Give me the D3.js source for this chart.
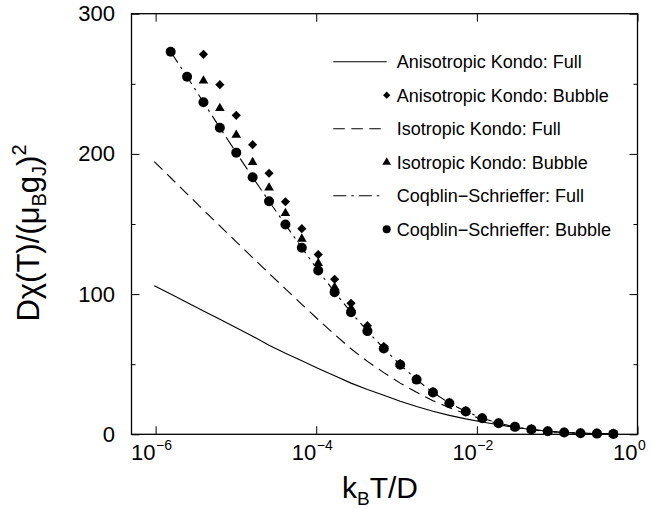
<!DOCTYPE html>
<html>
<head>
<meta charset="utf-8">
<script src="https://cdn.jsdelivr.net/npm/d3@7"></script>
<style>
  html, body { margin: 0; padding: 0; background: #fff; }
  svg { display: block; font-family: "Liberation Sans", Arial, Helvetica, sans-serif; }
</style>
</head>
<body>
<svg id="chart" width="652" height="508"></svg>
<script>
// Temperatures k_B T / D (logarithmic grid, lowest first)
const temps = [9.63e-7, 1.541e-6, 2.465e-6, 3.944e-6, 6.311e-6, 1.010e-5, 1.615e-5,
  2.585e-5, 4.136e-5, 6.617e-5, 1.059e-4, 1.694e-4, 2.711e-4, 4.337e-4, 6.939e-4,
  1.1102e-3, 1.7764e-3, 2.8422e-3, 4.5475e-3, 7.276e-3, 1.1642e-2, 1.8626e-2,
  2.9802e-2, 4.7684e-2, 7.6294e-2, 0.12207, 0.19531, 0.3125, 0.5];

// Full solutions (curves), one value per temperature above
const anisoFull = [106.0, 100.0, 94.0, 88.0, 82.0, 76.0, 70.0, 63.5, 57.8, 52.5, 47.0,
  41.7, 36.5, 32.0, 27.8, 23.5, 19.8, 16.5, 13.5, 11.0, 8.8, 6.8, 4.9, 3.4, 2.2, 1.3,
  0.8, 0.5, 0.3];
const isoFull = [194.5, 183.0, 171.5, 160.0, 148.6, 137.3, 126.0, 114.8, 103.7, 92.7,
  81.8, 71.2, 61.0, 52.0, 44.0, 36.5, 30.0, 24.0, 19.0, 14.6, 10.8, 7.5, 4.8, 3.2, 2.0,
  1.2, 0.8, 0.5, 0.3];
// starts at the second temperature
const csFull = [272.9, 255.0, 236.8, 218.7, 200.9, 183.3, 166.2, 149.6, 133.0, 116.8,
  101.4, 87.0, 73.6, 61.2, 49.6, 39.0, 29.8, 22.2, 16.3, 11.5, 7.9, 5.3, 3.5, 2.2, 1.3,
  0.8, 0.5, 0.3];

// Bubble approximations (symbols)
const csBubble = [272.9, 255.0, 236.8, 218.7, 200.9, 183.3, 166.2, 149.6, 133.0, 116.8,
  101.4, 87.0, 73.6, 61.2, 49.6, 39.0, 29.8, 22.2, 16.3, 11.5, 7.9, 5.3, 3.5, 2.2, 1.3,
  0.8, 0.5, 0.3];
// these two start at the fourth temperature
const anisoBubble = [271.0, 249.4, 227.5, 206.6, 186.2, 165.9, 146.7, 128.2, 110.6, 93.4,
  77.5, 62.5, 50.3, 39.4, 30.2, 22.5, 16.5, 11.6, 7.9, 5.3, 3.6, 2.2, 1.3, 0.8, 0.5, 0.3];
const isoBubble = [252.2, 232.5, 213.5, 194.0, 175.9, 157.6, 139.4, 122.0, 104.9, 89.9,
  75.6, 62.0, 49.9, 39.0, 30.0, 22.3, 16.4, 11.4, 7.8, 5.2, 3.5, 2.2, 1.3, 0.8, 0.5, 0.3];

const xTicks = [1e-6, 1e-4, 1e-2, 1];
const xTickExps = ["\u22126", "\u22124", "\u22122", "0"];
const yMajor = [0, 100, 200, 300];
const yMinor = [50, 150, 250];

const legendLabels = ["Anisotropic Kondo: Full", "Anisotropic Kondo: Bubble",
  "Isotropic Kondo: Full", "Isotropic Kondo: Bubble",
  "Coqblin\u2212Schrieffer: Full", "Coqblin\u2212Schrieffer: Bubble"];

const svg = d3.select("#chart");
const L = 131.5, R = 637.5, T = 13.7, B = 434.3;

const x = d3.scaleLog().domain([Math.pow(10, -6.3), 1]).range([L, R]);
const y = d3.scaleLinear().domain([0, 300]).range([B, T]);

// pair helper: align a value list to the tail end of the temperature grid
const pairs = vals => vals.map((v, i) => ({ t: temps[temps.length - vals.length + i], v }));

const line = d3.line().x(d => x(d.t)).y(d => y(d.v));

// curves
const curves = [
  { data: pairs(anisoFull), dash: null },
  { data: pairs(isoFull), dash: "11.5,6.5" },
  { data: pairs(csFull), dash: "13,5,2.5,5" }
];
svg.append("g").selectAll("path").data(curves).join("path")
  .attr("d", d => line(d.data))
  .attr("fill", "none").attr("stroke", "#000").attr("stroke-width", 1.1)
  .attr("stroke-dasharray", d => d.dash);

// symbols
const diamond = d3.symbol().type(d3.symbolSquare).size(42);
const triangle = d3.symbol().type(d3.symbolTriangle).size(40);

const gs = svg.append("g");
gs.selectAll(".dia").data(pairs(anisoBubble)).join("path")
  .attr("d", diamond())
  .attr("transform", d => `translate(${x(d.t)},${y(d.v)}) rotate(45)`);
gs.selectAll(".tri").data(pairs(isoBubble)).join("path")
  .attr("d", triangle())
  .attr("transform", d => `translate(${x(d.t)},${y(d.v)})`);
gs.selectAll("circle").data(pairs(csBubble)).join("circle")
  .attr("cx", d => x(d.t)).attr("cy", d => y(d.v)).attr("r", 5);

// axes with inward ticks on all four sides
const axisStyle = g => {
  g.select(".domain").remove();
  g.selectAll("line").attr("stroke", "#000").attr("stroke-width", 1);
};
svg.append("g").attr("transform", `translate(0,${B})`)
  .call(d3.axisBottom(x).tickValues(xTicks).tickSize(-8).tickFormat(""))
  .call(axisStyle);
svg.append("g").attr("transform", `translate(0,${T})`)
  .call(d3.axisTop(x).tickValues(xTicks).tickSize(-8).tickFormat(""))
  .call(axisStyle);
svg.append("g").attr("transform", `translate(${L},0)`)
  .call(d3.axisLeft(y).tickValues(yMajor).tickSize(-8).tickPadding(16.5))
  .call(axisStyle)
  .call(g => g.selectAll("text").attr("font-size", 22).attr("fill", "#000")
    .attr("font-family", null));
svg.append("g").attr("transform", `translate(${L},0)`)
  .call(d3.axisLeft(y).tickValues(yMinor).tickSize(-4).tickFormat(""))
  .call(axisStyle);
svg.append("g").attr("transform", `translate(${R},0)`)
  .call(d3.axisRight(y).tickValues(yMajor).tickSize(-8).tickFormat(""))
  .call(axisStyle);
svg.append("g").attr("transform", `translate(${R},0)`)
  .call(d3.axisRight(y).tickValues(yMinor).tickSize(-4).tickFormat(""))
  .call(axisStyle);

// x tick labels: "10" ends at the tick, the exponent follows it
const xl = svg.append("g").selectAll("g").data(xTicks).join("g")
  .attr("transform", d => `translate(${x(d)},460)`);
xl.append("text").attr("x", 0).attr("text-anchor", "end")
  .attr("font-size", 22).text("10");
xl.append("text").attr("x", 0.5).attr("y", -10).attr("text-anchor", "start")
  .attr("font-size", 14).text((d, i) => xTickExps[i]);

// frame
svg.append("rect").attr("x", L).attr("y", T).attr("width", R - L).attr("height", B - T)
  .attr("fill", "none").attr("stroke", "#000").attr("stroke-width", 1.3);

// axis titles
const xt = svg.append("text").attr("x", 380).attr("y", 498)
  .attr("text-anchor", "middle").attr("font-size", 30);
xt.append("tspan").text("k");
xt.append("tspan").attr("font-size", 19).attr("dy", 7).text("B");
xt.append("tspan").attr("dy", -7).text("T/D");

const yt = svg.append("text").attr("transform", "translate(39,233) rotate(-90)")
  .attr("text-anchor", "middle").attr("font-size", 31);
yt.append("tspan").text("D\u03c7(T)/(\u03bc");
yt.append("tspan").attr("font-size", 20).attr("dy", 7).text("B");
yt.append("tspan").attr("dy", -7).text("g");
yt.append("tspan").attr("font-size", 20).attr("dy", 7).text("J");
yt.append("tspan").attr("dy", -7).text(")");
yt.append("tspan").attr("font-size", 20).attr("dy", -13).text("2");

// legend
const lg = svg.append("g");
const rowY = i => 61.7 + 33.5 * i;
lg.selectAll("text").data(legendLabels).join("text")
  .attr("x", 396.7).attr("y", (d, i) => rowY(i)).attr("dy", "0.35em")
  .attr("font-size", 18).text(d => d);
[0, 2, 4].forEach((row, k) => {
  lg.append("line").attr("x1", 333.3).attr("x2", k === 0 ? 386.7 : 383)
    .attr("y1", rowY(row)).attr("y2", rowY(row))
    .attr("stroke", "#000").attr("stroke-width", 1.1)
    .attr("stroke-dasharray", curves[k].dash);
});
lg.append("path").attr("d", d3.symbol().type(d3.symbolSquare).size(26)())
  .attr("transform", `translate(386.7,${rowY(1)}) rotate(45)`);
lg.append("path").attr("d", d3.symbol().type(d3.symbolTriangle).size(32)())
  .attr("transform", `translate(386.7,${rowY(3)})`);
lg.append("circle").attr("cx", 386.7).attr("cy", rowY(5)).attr("r", 4);
</script>
</body>
</html>
